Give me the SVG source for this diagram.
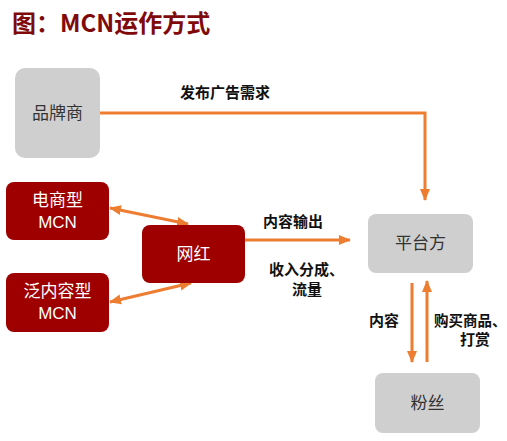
<svg xmlns="http://www.w3.org/2000/svg" width="507" height="441" viewBox="0 0 507 441">
<defs>
<marker id="ah" markerWidth="12" markerHeight="12" refX="11" refY="6" orient="auto-start-reverse" markerUnits="userSpaceOnUse">
<path d="M0,1 L12,6 L0,11 Z" fill="#ED7D31"/>
</marker>
<style>
.title{font-family:"Noto Sans CJK SC","Liberation Sans",sans-serif;font-weight:bold;font-size:24px;fill:#800A0A}
.gray{fill:#CFCFCF}
.red{fill:#9E0000}
.nt{font-family:"Noto Sans CJK SC",sans-serif;font-size:17px;text-anchor:middle}
.lat{font-family:"Liberation Sans",sans-serif}
.dark{fill:#333333}
.white{fill:#FFFFFF}
.lbl{font-family:"Noto Sans CJK SC",sans-serif;font-size:15px;font-weight:bold;fill:#111111}
.conn{stroke:#ED7D31;stroke-width:3;fill:none}
</style>
</defs>
<rect width="507" height="441" fill="#FFFFFF"/>
<text class="title" x="12" y="32">图：MCN运作方式</text>

<g id="connectors">
<path class="conn" d="M100,113 H425 V200" marker-end="url(#ah)"/>
<path class="conn" d="M245,240 H350" marker-end="url(#ah)"/>
<path class="conn" d="M110,208 L188,224" marker-start="url(#ah)" marker-end="url(#ah)"/>
<path class="conn" d="M110,302 L191,283" marker-start="url(#ah)" marker-end="url(#ah)"/>
<path class="conn" d="M412,283 V362" marker-end="url(#ah)"/>
<path class="conn" d="M427,362 V281" marker-end="url(#ah)"/>
</g>

<g id="labels">
<text class="lbl" x="180" y="98">发布广告需求</text>
<text class="lbl" x="263" y="227">内容输出</text>
<text class="lbl" x="269" y="275">收入分成、</text>
<text class="lbl" x="292" y="295">流量</text>
<text class="lbl" x="369" y="326">内容</text>
<text class="lbl" x="434" y="326" style="font-size:14.5px">购买商品、</text>
<text class="lbl" x="460" y="345">打赏</text>
</g>

<g id="brand">
<rect class="gray" x="15" y="68" width="85" height="90" rx="10"/>
<text class="nt dark" x="57.5" y="119">品牌商</text>
</g>
<g id="ecom-mcn">
<rect class="red" x="6" y="182" width="103" height="58" rx="8"/>
<text class="nt white" x="57.5" y="206">电商型</text>
<text class="nt white lat" x="57.5" y="228">MCN</text>
</g>
<g id="content-mcn">
<rect class="red" x="6" y="273" width="103" height="59" rx="8"/>
<text class="nt white" x="57.5" y="297">泛内容型</text>
<text class="nt white lat" x="57.5" y="319">MCN</text>
</g>
<g id="influencer">
<rect class="red" x="142" y="225" width="103" height="58" rx="8"/>
<text class="nt white" x="193.5" y="260">网红</text>
</g>
<g id="platform">
<rect class="gray" x="368" y="214" width="105" height="59" rx="8"/>
<text class="nt dark" x="420.5" y="249">平台方</text>
</g>
<g id="fans">
<rect class="gray" x="375" y="373" width="105" height="60" rx="8"/>
<text class="nt dark" x="427.5" y="409">粉丝</text>
</g>
</svg>
